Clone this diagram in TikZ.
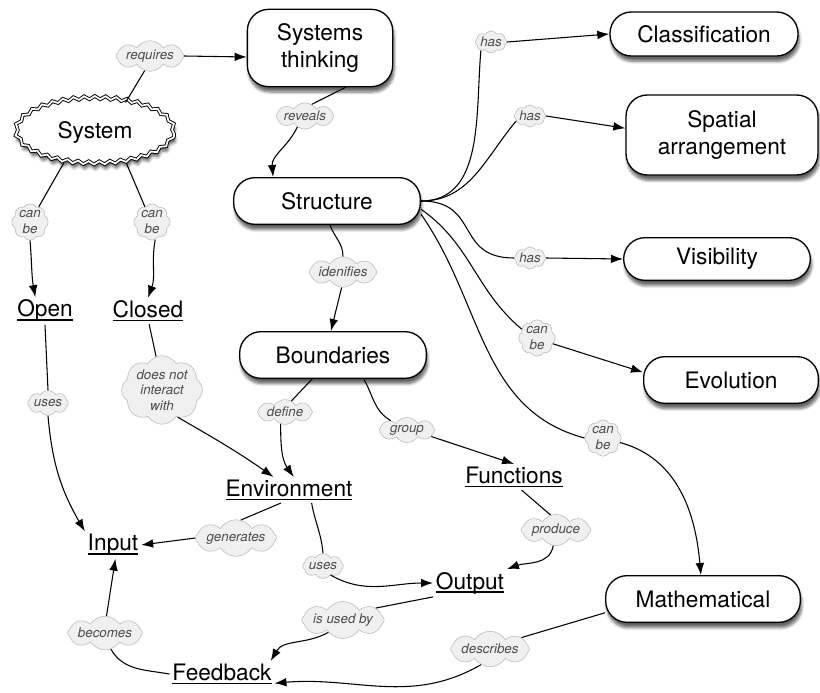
\documentclass[tikz,border=0pt]{standalone}
\usepackage{fontspec}
\setmainfont{TeX Gyre Heros}
\usetikzlibrary{arrows.meta,shapes.symbols,shapes.geometric,shadows,shadows.blur,decorations.pathmorphing,positioning}

\tikzstyle{block} = [rectangle, draw, line width=1pt, fill=white, rounded corners=16pt,
    minimum width=140pt, minimum height=35pt, align=center,
    font=\fontsize{17}{20}\selectfont,
    blur shadow={shadow xshift=1pt, shadow yshift=-4pt, shadow blur steps=6, shadow opacity=60}]
\tikzstyle{concept} = [inner sep=2pt, font=\fontsize{17}{20}\selectfont]
\tikzstyle{link} = [cloud, draw=black!28, fill=black!6, text=black!70, cloud puffs=8,
    cloud puff arc=115, aspect=4, inner sep=0pt, align=center,
    font=\fontsize{10}{11.5}\selectfont\itshape]
\tikzstyle{line} = [draw, line width=0.8pt, -{Latex[length=9pt,width=6.5pt]}]
\tikzstyle{plain} = [draw, line width=0.8pt]

\newsavebox\ulbox
\newcommand{\ulword}[1]{\sbox\ulbox{#1}\rlap{\rule[-2.8pt]{\wd\ulbox}{1.1pt}}\usebox\ulbox}

\begin{document}
\begin{tikzpicture}[x=0.75pt, y=0.75pt]
    \useasboundingbox (0,0) rectangle (820,-692);
    % Kavramlar
    \node [ellipse, draw, line width=0.7pt, double, double distance=1.3pt, fill=white,
        minimum width=118pt, minimum height=49pt, font=\fontsize{17}{20}\selectfont,
        decorate, decoration={snake, segment length=8pt, amplitude=1.2pt},
        blur shadow={shadow xshift=1pt, shadow yshift=-3.5pt, shadow opacity=60}] (system) at (95,-133) {System};
    \node [block, minimum width=109pt, minimum height=58pt] (sysThink) at (320,-48) {Systems\\thinking};
    \node [block] (structure) at (327,-201) {Structure};
    \node [block, minimum width=141pt, minimum height=33pt] (classif) at (704,-34) {Classification};
    \node [block, minimum width=144pt, minimum height=60pt] (spatial) at (722,-135) {Spatial\\arrangement};
    \node [block, minimum height=32pt] (visib) at (717,-259) {Visibility};
    \node [block, minimum width=131pt] (evol) at (731,-380) {Evolution};
    \node [block, minimum width=146pt] (math) at (703,-599) {Mathematical};
    \node [block] (bound) at (333,-355) {Boundaries};
    \node [concept] (open) at (45,-311) {\ulword{Open}};
    \node [concept] (closed) at (148,-311) {\ulword{Closed}};
    \node [concept] (env) at (289,-490) {\ulword{Environment}};
    \node [concept] (func) at (514,-477) {\ulword{Functions}};
    \node [concept] (input) at (113,-545) {\ulword{Input}};
    \node [concept] (output) at (470,-583) {\ulword{Output}};
    \node [concept] (feedback) at (222,-674) {\ulword{Feedback}};
    % Bulut etiketleri
    \node [link] (lReq) at (150,-56) {requires};
    \node [link] (lRev) at (305,-116) {reveals};
    \node [link, aspect=1] (lCanOpen) at (30,-222) {can\\be};
    \node [link, aspect=1] (lCanClosed) at (152,-222) {can\\be};
    \node [link] (lIdent) at (343,-272) {idenifies};
    \node [link, aspect=1.8] (lHasCl) at (491,-42) {has};
    \node [link, aspect=1.8] (lHasSp) at (530,-116) {has};
    \node [link, aspect=1.8] (lHasVis) at (530,-258) {has};
    \node [link, aspect=1] (lCanEvo) at (537,-338) {can\\be};
    \node [link, aspect=1] (lCanMath) at (603,-438) {can\\be};
    \node [link, aspect=1.3] (lNotInt) at (162,-390) {does not\\interact\\with};
    \node [link, aspect=2.2] (lUsesOpen) at (48,-403) {uses};
    \node [link] (lDefine) at (285,-412) {define};
    \node [link] (lGroup) at (407,-430) {group};
    \node [link] (lGen) at (236,-538) {generates};
    \node [link, aspect=2.2] (lUsesEnv) at (323,-566) {uses};
    \node [link] (lProduce) at (556,-530) {produce};
    \node [link] (lUsedBy) at (343,-620) {is used by};
    \node [link] (lBecomes) at (105,-633) {becomes};
    \node [link] (lDescr) at (490,-649) {describes};
    % Kenarlar
    \path [plain] (system.45) -- (lReq.250);
    \path [line] (lReq.east) -- (sysThink.187);
    \path [plain] (sysThink.-57) -- (lRev.60);
    \path [line] (lRev.235) to[out=-115,in=95] (structure.156);
    \path [plain] (system.224) -- (lCanOpen.60);
    \path [line] (lCanOpen.south) to[out=-85,in=100] (open.125);
    \path [plain] (system.-44) -- (lCanClosed.115);
    \path [line] (lCanClosed.-80) to[out=-100,in=70] (closed.north);
    \path [plain] (structure.-83) to[out=-70,in=90] (lIdent.north);
    \path [line] (lIdent.-95) -- (bound.95);
    \path [plain] (structure.east) to[out=0,in=-95] (lHasCl.220);
    \path [line] (lHasCl.east) -- (classif.west);
    \path [plain] (structure.east) to[out=0,in=-130] (lHasSp.200);
    \path [line] (lHasSp.east) -- (spatial.176);
    \path [plain] (structure.east) to[out=0,in=180,looseness=1.4] (lHasVis.west);
    \path [line] (lHasVis.east) -- (visib.west);
    \path [plain] (structure.-5) to[out=-35,in=140] (lCanEvo.150);
    \path [line] (lCanEvo.-20) -- (evol.175);
    \path [plain] (structure.-8) to[out=-55,in=165] (lCanMath.west);
    \path [line] (lCanMath.-15) to[out=-15,in=95] (math.95);
    \path [plain] (bound.229) -- (lDefine.60);
    \path [line] (lDefine.250) to[out=-90,in=125] (env.70);
    \path [plain] (bound.-38) to[out=-60,in=150] (lGroup.150);
    \path [line] (lGroup.-15) -- (func.north);
    \path [plain] (closed.-85) -- (lNotInt.100);
    \path [line] (lNotInt.-60) to[out=-30,in=145] (env.140);
    \path [plain] (open.south) -- (lUsesOpen.north);
    \path [line] (lUsesOpen.south) to[out=-85,in=120] (input.north west);
    \path [plain] (env.-122) -- (lGen.75);
    \path [line] (lGen.west) -- (input.east);
    \path [plain] (env.-30) to[out=-80,in=95] (lUsesEnv.north);
    \path [line] (lUsesEnv.-50) to[out=-30,in=180] (output.west);
    \path [plain] (func.-60) -- (lProduce.110);
    \path [line] (lProduce.-100) to[out=-100,in=20] (output.north east);
    \path [plain] (output.south west) -- (lUsedBy.20);
    \path [line] (lUsedBy.220) to[out=-150,in=60] (feedback.15);
    \path [plain] (feedback.west) to[out=170,in=-60] (lBecomes.-70);
    \path [line] (lBecomes.85) -- (input.-80);
    \path [plain] (math.188) -- (lDescr.20);
    \path [line] (lDescr.-120) to[out=-150,in=5] (feedback.-10);
\end{tikzpicture}
\end{document}
